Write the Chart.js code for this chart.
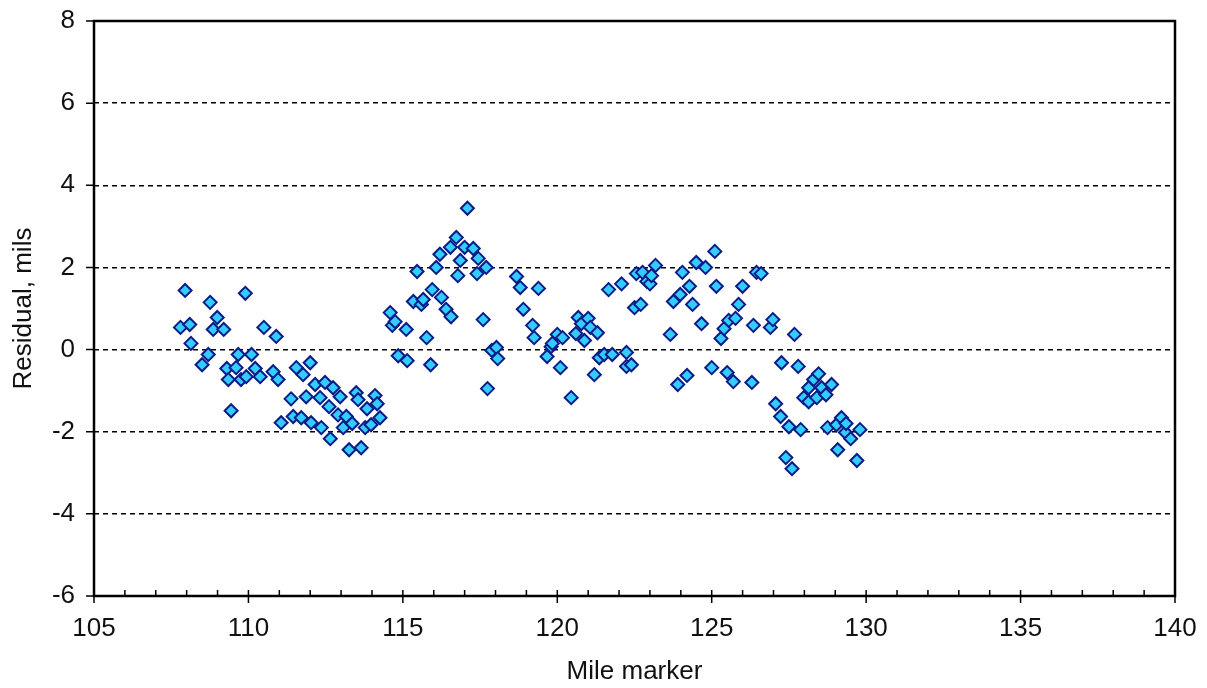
<!DOCTYPE html>
<html>
<head>
<meta charset="utf-8">
<script src="https://cdn.jsdelivr.net/npm/chart.js@4.4.1/dist/chart.umd.min.js"></script>
<style>
  html, body { margin: 0; padding: 0; background: #fff; }
  #wrap { width: 1207px; height: 688px; }
</style>
</head>
<body>
<div id="wrap"><canvas id="chart"></canvas></div>
<script>
// residual vs mile marker
const mileMarkers = [
  107.8, 107.95, 108.1, 108.14, 108.5, 108.7, 108.76, 108.86, 108.99, 109.2,
  109.3, 109.35, 109.44, 109.6, 109.67, 109.76, 109.9, 109.93, 110.1, 110.22,
  110.38, 110.5, 110.8, 110.9, 110.96, 111.06, 111.38, 111.45, 111.55, 111.71,
  111.77, 111.87, 112.0, 112.03, 112.16, 112.32, 112.36, 112.48, 112.61, 112.65,
  112.74, 112.9, 112.97, 113.07, 113.17, 113.26, 113.36, 113.49, 113.55, 113.65,
  113.78, 113.84, 113.97, 114.1, 114.17, 114.26, 114.59, 114.66, 114.75, 114.85,
  115.11, 115.14, 115.34, 115.46, 115.6, 115.66, 115.77, 115.9, 115.95, 116.08,
  116.2, 116.25, 116.4, 116.54, 116.56, 116.73, 116.78, 116.86, 117.0, 117.09,
  117.28, 117.4, 117.44, 117.6, 117.7, 117.74, 117.88, 118.03, 118.07, 118.68,
  118.8, 118.9, 119.2, 119.25, 119.39, 119.67, 119.8, 119.84, 120.0, 120.1,
  120.17, 120.45, 120.6, 120.68, 120.78, 120.88, 121.0, 121.07, 121.2, 121.3,
  121.36, 121.52, 121.66, 121.78, 122.08, 122.24, 122.24, 122.4, 122.5, 122.56,
  122.7, 122.76, 122.9, 123.0, 123.05, 123.18, 123.66, 123.76, 123.9, 123.98,
  124.05, 124.2, 124.28, 124.38, 124.5, 124.67, 124.8, 125.0, 125.1, 125.15,
  125.3, 125.4, 125.5, 125.55, 125.7, 125.77, 125.87, 126.0, 126.3, 126.35,
  126.45, 126.6, 126.9, 126.98, 127.07, 127.23, 127.26, 127.4, 127.5, 127.6,
  127.68, 127.8, 127.88, 127.98, 128.14, 128.14, 128.3, 128.4, 128.46, 128.56,
  128.7, 128.75, 128.88, 129.04, 129.08, 129.2, 129.33, 129.35, 129.5, 129.7,
  129.8
];
const residuals = [
  0.54, 1.44, 0.61, 0.15, -0.37, -0.12, 1.15, 0.49, 0.78, 0.49,
  -0.46, -0.73, -1.49, -0.44, -0.12, -0.73, 1.37, -0.66, -0.12, -0.46,
  -0.66, 0.54, -0.54, 0.32, -0.73, -1.78, -1.2, -1.63, -0.44, -1.66,
  -0.61, -1.15, -0.32, -1.78, -0.85, -1.17, -1.9, -0.8, -1.39, -2.17,
  -0.93, -1.59, -1.15, -1.9, -1.63, -2.44, -1.8, -1.05, -1.22, -2.39,
  -1.9, -1.44, -1.83, -1.12, -1.32, -1.66, 0.9, 0.59, 0.68, -0.15,
  0.49, -0.27, 1.17, 1.9, 1.1, 1.22, 0.29, -0.37, 1.46, 2.0,
  2.32, 1.27, 0.98, 2.49, 0.8, 2.73, 1.8, 2.17, 2.49, 3.44,
  2.46, 1.85, 2.22, 0.73, 2.0, -0.95, -0.02, 0.05, -0.22, 1.78,
  1.51, 0.98, 0.59, 0.29, 1.49, -0.17, 0.07, 0.15, 0.37, -0.44,
  0.29, -1.17, 0.39, 0.78, 0.63, 0.22, 0.76, 0.54, -0.61, 0.41,
  -0.2, -0.12, 1.46, -0.12, 1.6, -0.07, -0.41, -0.37, 1.02, 1.85,
  1.1, 1.88, 1.66, 1.6, 1.8, 2.05, 0.37, 1.17, -0.85, 1.34,
  1.88, -0.63, 1.54, 1.1, 2.12, 0.63, 2.0, -0.44, 2.39, 1.54,
  0.27, 0.51, -0.56, 0.71, -0.78, 0.76, 1.1, 1.54, -0.8, 0.59,
  1.88, 1.85, 0.54, 0.73, -1.32, -1.63, -0.32, -2.63, -1.88, -2.9,
  0.37, -0.41, -1.95, -1.17, -0.93, -1.27, -0.73, -1.17, -0.59, -0.93,
  -1.1, -1.9, -0.85, -1.83, -2.44, -1.66, -2.02, -1.8, -2.17, -2.7,
  -1.95
];
const xTicks = [105, 110, 115, 120, 125, 130, 135, 140];
const yTicks = [-6, -4, -2, 0, 2, 4, 6, 8];

const xMin = xTicks[0], xMax = xTicks[xTicks.length - 1];
const yMin = yTicks[0], yMax = yTicks[yTicks.length - 1];

// frame, outside tick marks and the small minor ticks on the x axis
const axisDecor = {
  id: 'axisDecor',
  beforeDatasetsDraw(chart) {
    const { ctx, chartArea: a, scales: { x, y } } = chart;
    ctx.save();
    ctx.strokeStyle = '#000';
    ctx.lineWidth = 1.5;
    ctx.beginPath();
    for (let v = xMin; v <= xMax; v++) {
      const px = x.getPixelForValue(v);
      const major = xTicks.includes(v);
      ctx.moveTo(px, a.bottom - 6);
      ctx.lineTo(px, a.bottom + (major ? 7 : 0));
    }
    yTicks.forEach(v => {
      const py = y.getPixelForValue(v);
      ctx.moveTo(a.left - 8, py);
      ctx.lineTo(a.left, py);
    });
    ctx.stroke();
    ctx.lineWidth = 2.5;
    ctx.strokeRect(a.left, a.top, a.right - a.left, a.bottom - a.top);
    ctx.restore();
  }
};

const font = { family: '"Liberation Sans", Arial, sans-serif', size: 26 };

new Chart(document.getElementById('chart'), {
  type: 'scatter',
  data: {
    datasets: [{
      label: 'Residual',
      data: mileMarkers.map((m, i) => ({ x: m, y: residuals[i] })),
      pointStyle: 'rectRot',
      pointRadius: 6.5,
      pointHoverRadius: 6.5,
      backgroundColor: '#33ccff',
      borderColor: '#0b1c86',
      borderWidth: 2,
    }],
  },
  options: {
    responsive: true,
    maintainAspectRatio: false,
    animation: false,
    layout: { padding: { top: 21, right: 32, left: 0, bottom: 0 } },
    plugins: {
      legend: { display: false },
      tooltip: { enabled: false },
    },
    scales: {
      x: {
        type: 'linear',
        min: xMin,
        max: xMax,
        afterBuildTicks: s => { s.ticks = xTicks.map(v => ({ value: v })); },
        afterFit: s => { s.height = 92; s.paddingLeft = 0; s.paddingRight = 0; },
        grid: { display: false, drawTicks: false },
        border: { display: false },
        ticks: { color: '#111', font, padding: 17, maxRotation: 0 },
        title: { display: true, text: 'Mile marker', color: '#111', font, padding: 1 },
      },
      y: {
        min: yMin,
        max: yMax,
        afterBuildTicks: s => { s.ticks = yTicks.map(v => ({ value: v })); },
        afterFit: s => { s.width = 94; s.paddingTop = 0; s.paddingBottom = 0; },
        grid: {
          drawTicks: false,
          lineWidth: 1.4,
          color: c => (c.tick && (c.tick.value === yMin || c.tick.value === yMax)) ? 'rgba(0,0,0,0)' : '#000',
        },
        border: { display: false, dash: [5, 4] },
        ticks: { color: '#111', font, padding: 19 },
        title: { display: true, text: 'Residual, mils', color: '#111', font, padding: 8 },
      },
    },
  },
  plugins: [axisDecor],
});
</script>
</body>
</html>
